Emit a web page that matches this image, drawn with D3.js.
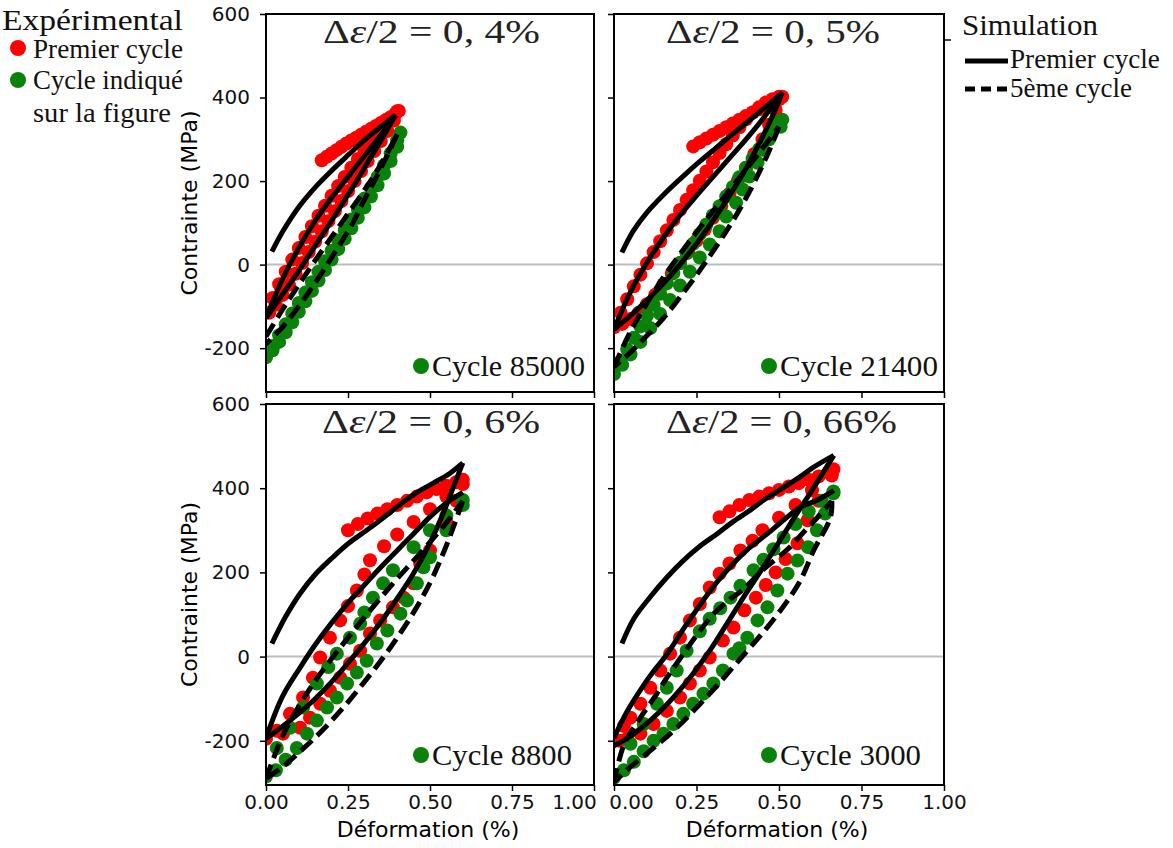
<!DOCTYPE html>
<html><head><meta charset="utf-8">
<script src="https://cdn.jsdelivr.net/npm/d3@7"></script>
<style>body{margin:0;background:#fff}</style></head>
<body><svg id="c" width="1173" height="848"></svg>
<script>
// ---------- tick labels / texts ----------
const xTicks=[0,0.25,0.5,0.75,1.0];
const yTicks=[-200,0,200,400,600];
const titleValues=["0, 4%","0, 5%","0, 6%","0, 66%"];
const cycleLabels=["Cycle 85000","Cycle 21400","Cycle 8800","Cycle 3000"];

// ---------- panel 1 : 0,4% ----------
const p1_simMono=[[0.018,31],[0.05,78],[0.1,138],[0.15,185],[0.2,225],[0.25,262],[0.3,298],[0.35,330],[0.395,358]];
const p1_simUnload=[[0.395,358],[0.36,310],[0.32,258],[0.28,205],[0.24,155],[0.2,105],[0.15,45],[0.1,-15],[0.05,-72],[0,-128]];
const p1_simReload=[[0,-128],[0.05,-35],[0.1,40],[0.15,105],[0.2,160],[0.25,210],[0.3,260],[0.35,310],[0.395,358]];
const p1_sim5Reload=[[0,-172],[0.05,-108],[0.1,-48],[0.15,10],[0.2,66],[0.25,122],[0.3,178],[0.35,240],[0.4,312]];
const p1_sim5Unload=[[0.4,312],[0.37,262],[0.33,200],[0.29,140],[0.265,100],[0.22,42],[0.18,-8],[0.14,-55],[0.1,-100],[0.05,-150],[0,-190]];
const p1_redMono=[[0.17,250],[0.185,258],[0.2,266],[0.215,274],[0.23,282],[0.245,290],[0.26,297],[0.275,304],[0.29,311],[0.305,318],[0.32,325],[0.335,332],[0.35,339],[0.365,346],[0.38,353],[0.395,362],[0.405,368]];
const p1_redLoop=[[0,-115],[0.02,-80],[0.04,-47],[0.06,-17],[0.08,12],[0.1,40],[0.12,66],[0.14,92],[0.16,117],[0.18,141],[0.2,165],[0.22,188],[0.24,210],[0.26,232],[0.28,253],[0.3,274],[0.32,295],[0.34,315],[0.36,335],[0.38,352],[0.4,367],
 [0.39,345],[0.37,320],[0.35,296],[0.33,272],[0.31,248],[0.29,224],[0.27,200],[0.25,176],[0.23,152],[0.21,128],[0.19,104],[0.17,80],[0.15,55],[0.13,30],[0.11,4],[0.09,-22],[0.07,-48],[0.05,-73],[0.03,-96],[0.01,-115]];
const p1_greenLoop=[[0,-222],[0.02,-195],[0.04,-169],[0.06,-143],[0.08,-117],[0.1,-92],[0.12,-67],[0.14,-42],[0.16,-17],[0.18,8],[0.2,33],[0.22,58],[0.24,83],[0.26,108],[0.28,133],[0.3,158],[0.32,184],[0.34,210],[0.36,238],[0.38,266],[0.4,298],[0.41,316],
 [0.4,282],[0.38,248],[0.36,218],[0.34,190],[0.32,163],[0.3,137],[0.28,112],[0.26,87],[0.24,62],[0.22,37],[0.2,12],[0.18,-13],[0.16,-38],[0.14,-63],[0.12,-88],[0.1,-113],[0.08,-138],[0.06,-162],[0.04,-185],[0.02,-205]];

// ---------- panel 2 : 0,5% ----------
const p2_simMono=[[0.024,29],[0.058,80],[0.1,125],[0.16,175],[0.21,212],[0.26,247],[0.31,280],[0.36,313],[0.41,345],[0.46,378],[0.51,412]];
const p2_simUnload=[[0.51,412],[0.48,355],[0.44,290],[0.4,230],[0.35,165],[0.3,105],[0.25,50],[0.2,0],[0.15,-45],[0.1,-85],[0.05,-122],[0,-155]];
const p2_simReload=[[0,-155],[0.05,-65],[0.1,5],[0.15,65],[0.2,118],[0.25,165],[0.3,210],[0.35,255],[0.4,300],[0.45,348],[0.51,412]];
const p2_sim5Reload=[[0,-245],[0.05,-160],[0.1,-92],[0.15,-30],[0.2,25],[0.25,78],[0.3,128],[0.35,178],[0.4,228],[0.45,278],[0.5,330]];
const p2_sim5Unload=[[0.5,330],[0.47,272],[0.43,205],[0.39,145],[0.35,92],[0.3,32],[0.25,-25],[0.2,-78],[0.15,-128],[0.1,-170],[0.05,-210],[0,-245]];
const p2_redMono=[[0.24,283],[0.26,293],[0.28,302],[0.3,311],[0.32,320],[0.34,329],[0.36,338],[0.38,347],[0.4,356],[0.42,364],[0.44,372],[0.46,380],[0.48,388],[0.5,396],[0.51,402]];
const p2_redLoop=[[0,-150],[0.02,-115],[0.04,-83],[0.06,-52],[0.08,-24],[0.1,3],[0.12,30],[0.14,56],[0.16,82],[0.18,107],[0.2,131],[0.22,155],[0.24,178],[0.26,201],[0.28,223],[0.3,245],[0.32,267],[0.34,288],[0.36,309],[0.38,329],[0.4,348],[0.42,364],[0.44,377],[0.46,388],[0.48,396],[0.5,402],
 [0.49,370],[0.47,335],[0.45,300],[0.425,265],[0.4,232],[0.375,200],[0.35,170],[0.325,140],[0.3,112],[0.275,84],[0.25,57],[0.225,30],[0.2,4],[0.175,-22],[0.15,-47],[0.125,-72],[0.1,-95],[0.075,-115],[0.05,-130],[0.025,-142]];
const p2_greenLoop=[[0,-262],[0.02,-232],[0.04,-203],[0.06,-175],[0.08,-148],[0.1,-122],[0.12,-96],[0.14,-70],[0.16,-45],[0.18,-20],[0.2,4],[0.22,27],[0.24,50],[0.26,73],[0.28,96],[0.3,118],[0.32,140],[0.34,163],[0.36,186],[0.38,209],[0.4,232],[0.42,254],[0.44,277],[0.46,300],[0.48,322],[0.5,342],[0.51,347],
 [0.505,330],[0.47,300],[0.45,275],[0.435,244],[0.41,211],[0.39,180],[0.37,148],[0.34,115],[0.32,80],[0.29,48],[0.26,17],[0.23,-17],[0.2,-50],[0.17,-85],[0.14,-118],[0.11,-152],[0.08,-185],[0.05,-215],[0.025,-240]];

// ---------- panel 3 : 0,6% ----------
const p3_simMono=[[0.018,31],[0.06,95],[0.104,150],[0.15,195],[0.204,236],[0.25,268],[0.307,300],[0.35,325],[0.41,362],[0.46,390],[0.51,412],[0.56,435],[0.6,460]];
const p3_simUnload=[[0.6,460],[0.57,400],[0.54,340],[0.5,270],[0.45,198],[0.4,138],[0.35,82],[0.3,32],[0.25,-15],[0.2,-60],[0.15,-100],[0.1,-135],[0.05,-166],[0,-195]];
const p3_simReload=[[0,-193],[0.05,-95],[0.104,-26],[0.15,28],[0.2,80],[0.256,133],[0.3,170],[0.35,212],[0.4,252],[0.45,292],[0.5,332],[0.55,365],[0.6,390]];
const p3_sim5Reload=[[0,-290],[0.05,-190],[0.1,-118],[0.15,-58],[0.2,-5],[0.25,45],[0.3,93],[0.35,140],[0.4,185],[0.45,228],[0.5,272],[0.55,318],[0.6,370]];
const p3_sim5Unload=[[0.6,370],[0.57,305],[0.54,245],[0.5,175],[0.45,105],[0.4,45],[0.35,-10],[0.3,-60],[0.25,-108],[0.2,-152],[0.15,-192],[0.1,-228],[0.05,-262],[0,-290]];
const p3_redMono=[[0.25,300],[0.28,315],[0.31,328],[0.34,340],[0.37,350],[0.4,360],[0.43,370],[0.46,380],[0.49,390],[0.52,398],[0.55,406],[0.58,414],[0.6,420]];
const p3_redLoop=[[0,-195],[0.033,-176],[0.073,-136],[0.113,-97],[0.143,-50],[0.165,-2],[0.195,45],[0.226,86],[0.25,120],[0.277,157],[0.3,195],[0.317,229],[0.36,262],[0.4,290],[0.45,320],[0.5,350],[0.55,380],[0.6,410],
 [0.58,370],[0.55,320],[0.5,252],[0.47,221],[0.45,174],[0.42,140],[0.387,117],[0.348,86],[0.317,55],[0.287,14],[0.256,-17],[0.226,-50],[0.195,-81],[0.165,-112],[0.134,-145],[0.104,-169],[0.052,-183]];
const p3_greenLoop=[[0,-285],[0.033,-217],[0.073,-169],[0.113,-121],[0.155,-64],[0.19,-25],[0.216,7],[0.256,45],[0.287,78],[0.3,105],[0.326,140],[0.357,174],[0.387,205],[0.45,260],[0.5,300],[0.55,335],[0.6,372],
 [0.6,360],[0.55,300],[0.5,236],[0.48,212],[0.46,174],[0.43,133],[0.41,102],[0.37,62],[0.338,31],[0.307,-10],[0.277,-38],[0.247,-64],[0.216,-97],[0.186,-121],[0.155,-152],[0.125,-183],[0.094,-217],[0.06,-245],[0.03,-270]];

// ---------- panel 4 : 0,66% ----------
const p4_simMono=[[0.024,31],[0.06,90],[0.109,141],[0.16,188],[0.21,228],[0.26,262],[0.313,292],[0.36,320],[0.413,348],[0.46,375],[0.514,402],[0.56,425],[0.605,450],[0.666,478]];
const p4_simUnload=[[0.666,478],[0.6,395],[0.55,335],[0.5,272],[0.45,210],[0.4,150],[0.35,88],[0.29,14],[0.24,-40],[0.19,-88],[0.14,-130],[0.09,-165],[0.045,-192],[0,-212]];
const p4_simReload=[[0,-193],[0.04,-130],[0.088,-70],[0.12,-35],[0.16,5],[0.21,65],[0.26,122],[0.31,175],[0.36,220],[0.41,258],[0.465,292],[0.515,325],[0.565,355],[0.617,372],[0.666,395]];
const p4_sim5Reload=[[0,-300],[0.03,-210],[0.08,-145],[0.13,-88],[0.16,-50],[0.2,-5],[0.25,50],[0.3,100],[0.35,135],[0.392,160],[0.45,205],[0.526,255],[0.58,300],[0.617,331],[0.66,370]];
const p4_sim5Unload=[[0.66,370],[0.656,331],[0.605,252],[0.565,181],[0.526,133],[0.495,100],[0.465,70],[0.435,42],[0.404,14],[0.362,-24],[0.313,-68],[0.26,-113],[0.19,-169],[0.12,-217],[0.05,-262],[0,-298]];
const p4_redMono=[[0.32,331],[0.35,345],[0.38,360],[0.41,372],[0.44,380],[0.47,388],[0.5,396],[0.53,404],[0.56,412],[0.59,420],[0.62,428],[0.65,438],[0.665,445]];
const p4_redLoop=[[0,-195],[0.03,-165],[0.05,-145],[0.08,-112],[0.11,-74],[0.14,-33],[0.17,7],[0.2,45],[0.23,86],[0.26,125],[0.29,164],[0.32,197],[0.35,221],[0.383,252],[0.42,275],[0.45,300],[0.5,330],[0.55,360],[0.6,395],[0.66,440],
 [0.66,430],[0.62,370],[0.587,324],[0.556,269],[0.52,232],[0.49,200],[0.46,170],[0.43,140],[0.395,110],[0.362,69],[0.33,38],[0.29,-2],[0.26,-33],[0.23,-64],[0.2,-97],[0.16,-129],[0.12,-160],[0.08,-183],[0.04,-195],[0.018,-200]];
const p4_greenLoop=[[0,-288],[0.05,-207],[0.09,-160],[0.13,-112],[0.16,-74],[0.19,-33],[0.22,14],[0.26,60],[0.29,90],[0.322,115],[0.353,140],[0.383,168],[0.423,205],[0.453,230],[0.483,255],[0.514,283],[0.55,315],[0.59,345],[0.63,370],[0.665,392],
 [0.665,388],[0.64,340],[0.615,300],[0.588,260],[0.556,228],[0.526,197],[0.495,157],[0.465,117],[0.435,86],[0.404,45],[0.38,20],[0.362,7],[0.33,-33],[0.301,-64],[0.271,-88],[0.24,-112],[0.21,-136],[0.18,-160],[0.15,-183],[0.12,-200],[0.09,-225],[0.06,-250],[0.03,-270]];

// ---------- assemble (table built from the arrays) ----------
const panelData=[
 {mono:p1_simMono,unload:p1_simUnload,reload:p1_simReload,d1:p1_sim5Reload,d2:p1_sim5Unload,redMono:p1_redMono,redLoop:p1_redLoop,green:p1_greenLoop},
 {mono:p2_simMono,unload:p2_simUnload,reload:p2_simReload,d1:p2_sim5Reload,d2:p2_sim5Unload,redMono:p2_redMono,redLoop:p2_redLoop,green:p2_greenLoop},
 {mono:p3_simMono,unload:p3_simUnload,reload:p3_simReload,d1:p3_sim5Reload,d2:p3_sim5Unload,redMono:p3_redMono,redLoop:p3_redLoop,green:p3_greenLoop},
 {mono:p4_simMono,unload:p4_simUnload,reload:p4_simReload,d1:p4_sim5Reload,d2:p4_sim5Unload,redMono:p4_redMono,redLoop:p4_redLoop,green:p4_greenLoop}
];

// ---------- layout ----------
const frames=[
 {x0:266,x1:594,y0:14,y1:392,left:true,bottom:false,titleX:323,titleW:217,titleY:43,cycY:366},
 {x0:614,x1:944,y0:14,y1:392,left:false,bottom:false,titleX:666,titleW:214,titleY:43,cycY:366},
 {x0:266,x1:594,y0:404,y1:785,left:true,bottom:true,titleX:322,titleW:218,titleY:433,cycY:755},
 {x0:614,x1:944,y0:404,y1:785,left:false,bottom:true,titleX:666,titleW:231,titleY:433,cycY:755}
];
const cycW=[153,158,140,141];
const RED="#ff0000", GREEN="#0a820a";
const svg=d3.select("#c");
svg.append("rect").attr("width",1173).attr("height",848).attr("fill","#fff");

function fitText(sel,x,w){
  const bb=sel.node().getBBox();
  const s=w/bb.width;
  sel.attr("transform",`translate(${x},0) scale(${s},1) translate(${-bb.x},0)`);
}

frames.forEach((f,i)=>{
  const d=panelData[i];
  const x=d3.scaleLinear().domain([0,1]).range([f.x0,f.x1]);
  const y=d3.scaleLinear().domain([-305,600]).range([f.y1,f.y0]);
  const g=svg.append("g");
  const clipId="clip"+i;
  g.append("clipPath").attr("id",clipId).append("rect")
   .attr("x",f.x0).attr("y",f.y0).attr("width",f.x1-f.x0).attr("height",f.y1-f.y0);
  g.append("line").attr("x1",f.x0).attr("x2",f.x1).attr("y1",y(0)).attr("y2",y(0))
   .attr("stroke","#bdbdbd").attr("stroke-width",2);
  const plot=g.append("g").attr("clip-path",`url(#${clipId})`);
  plot.selectAll(null).data(d.redMono.concat(d.redLoop)).enter().append("circle")
   .attr("cx",p=>x(p[0])).attr("cy",p=>y(p[1])).attr("r",7).attr("fill",RED);
  plot.selectAll(null).data(d.green).enter().append("circle")
   .attr("cx",p=>x(p[0])).attr("cy",p=>y(p[1])).attr("r",7).attr("fill",GREEN);
  const line=d3.line().x(p=>x(p[0])).y(p=>y(p[1])).curve(d3.curveCatmullRom.alpha(0.5));
  [d.mono,d.unload,d.reload].forEach(arr=>{
    plot.append("path").attr("d",line(arr)).attr("fill","none").attr("stroke","#000").attr("stroke-width",5);
  });
  [d.d1,d.d2].forEach(arr=>{
    plot.append("path").attr("d",line(arr)).attr("fill","none").attr("stroke","#000")
     .attr("stroke-width",5).attr("stroke-dasharray","15,7");
  });
  const ya=g.append("g").attr("transform",`translate(${f.x0},0)`)
   .call(d3.axisLeft(y).tickValues(yTicks).tickSize(6).tickPadding(10).tickFormat(v=>String(v)));
  const xa=g.append("g").attr("transform",`translate(0,${f.y1})`)
   .call(d3.axisBottom(x).tickValues(xTicks).tickSize(6).tickPadding(4).tickFormat(d3.format(".2f")));
  [ya,xa].forEach(a=>{
    a.select(".domain").remove();
    a.selectAll("line").attr("stroke","#000").attr("stroke-width",1.5);
    a.selectAll("text").attr("font-family","DejaVu Sans").attr("font-size",20).attr("fill","#111");
  });
  if(!f.left) ya.selectAll("text").remove();
  if(!f.bottom) xa.selectAll("text").remove();
  else {
    xa.selectAll("text").filter(v=>(f.left && v===1)).attr("dx",-20);
    xa.selectAll("text").filter(v=>(!f.left && v===0)).attr("dx",17);
  }
  g.append("rect").attr("x",f.x0).attr("y",f.y0).attr("width",f.x1-f.x0).attr("height",f.y1-f.y0)
   .attr("fill","none").attr("stroke","#000").attr("stroke-width",2);
  const t=g.append("text").attr("x",0).attr("y",f.titleY).attr("font-family","Liberation Serif")
   .attr("font-size",34).attr("fill","#222");
  t.append("tspan").text("Δ");
  t.append("tspan").attr("font-style","italic").text("ε");
  t.append("tspan").text("/2 = "+titleValues[i]);
  fitText(t,f.titleX,f.titleW);
  g.append("circle").attr("cx",f.x0+155).attr("cy",f.cycY).attr("r",8).attr("fill",GREEN);
  const c=g.append("text").attr("x",0).attr("y",f.cycY+10).attr("font-family","Liberation Serif")
   .attr("font-size",29).attr("fill","#111").text(cycleLabels[i]);
  fitText(c,f.x0+166,cycW[i]);
  if(f.left){
    svg.append("text").attr("transform",`translate(197,${(f.y0+f.y1)/2}) rotate(-90)`)
     .attr("text-anchor","middle").attr("font-family","DejaVu Sans").attr("font-size",22)
     .text("Contrainte (MPa)");
  }
  if(f.bottom){
    svg.append("text").attr("x",(f.x0+f.x1)/2-2).attr("y",837).attr("text-anchor","middle")
     .attr("font-family","DejaVu Sans").attr("font-size",22).text("Déformation (%)");
  }
});

function serif(x,y,size,txt,w){
  const t=svg.append("text").attr("x",0).attr("y",y).attr("font-family","Liberation Serif")
   .attr("font-size",size).attr("fill","#111").text(txt);
  fitText(t,x,w);
}
serif(2,30,30,"Expérimental",181);
svg.append("circle").attr("cx",18).attr("cy",48).attr("r",8).attr("fill",RED);
serif(33,58,27,"Premier cycle",150);
svg.append("circle").attr("cx",18).attr("cy",80).attr("r",8).attr("fill",GREEN);
serif(33,89,27,"Cycle indiqué",150);
serif(33,122,27,"sur la figure",138);

serif(962,35,30,"Simulation",136);
svg.append("line").attr("x1",965).attr("x2",1008).attr("y1",61).attr("y2",61).attr("stroke","#000").attr("stroke-width",5);
serif(1010,68,28,"Premier cycle",150);
svg.append("line").attr("x1",965).attr("x2",1008).attr("y1",89).attr("y2",89).attr("stroke","#000").attr("stroke-width",5).attr("stroke-dasharray","10,6");
serif(1010,97,28,"5ème cycle",122);
svg.append("line").attr("x1",944).attr("x2",951).attr("y1",40).attr("y2",40).attr("stroke","#000").attr("stroke-width",1.5);
</script></body></html>
